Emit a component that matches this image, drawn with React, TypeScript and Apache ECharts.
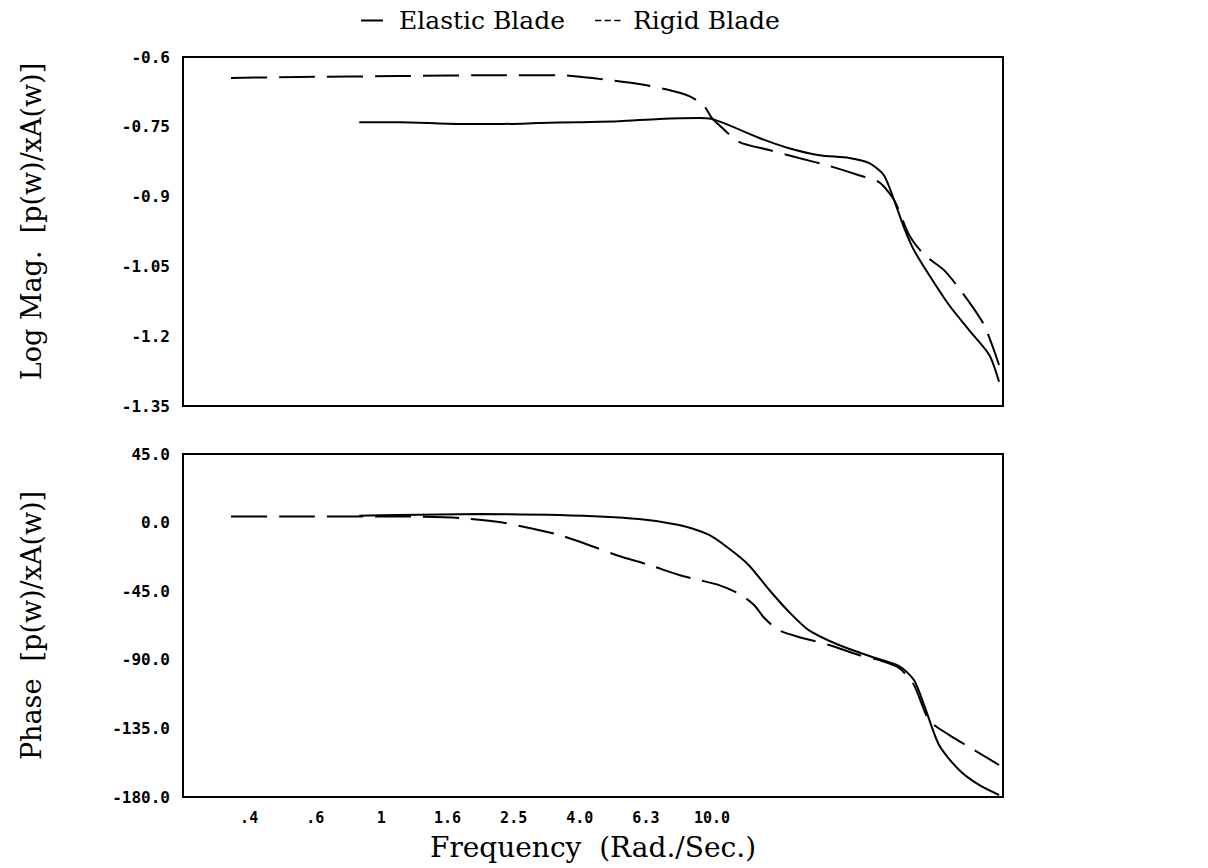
import { useEffect, useRef } from "react";
import * as echarts from "echarts";

// ---------- data (frequency in rad/s) ----------
const elasticMagFreq = [0.857, 1.13, 1.72, 2.27, 3.0, 3.96, 5.23, 6.92, 9.14, 9.94, 11.2, 13.9, 17.1, 21.1, 26.0, 29.9, 33.1, 35.5, 38.1, 40.8, 45.3, 52.1, 59.9, 68.9, 73.8];
const elasticMag = [-0.74, -0.74, -0.744, -0.744, -0.742, -0.74, -0.738, -0.733, -0.731, -0.733, -0.746, -0.774, -0.796, -0.811, -0.817, -0.828, -0.854, -0.907, -0.967, -1.015, -1.068, -1.133, -1.187, -1.24, -1.298];

const rigidMagFreq = [0.351, 0.564, 1.13, 2.27, 3.44, 4.55, 6.01, 7.41, 8.53, 9.46, 9.94, 10.5, 12.1, 14.9, 18.3, 22.6, 27.8, 32.0, 35.5, 39.5, 43.8, 50.3, 57.8, 66.5, 73.8];
const rigidMag = [-0.645, -0.643, -0.641, -0.639, -0.639, -0.647, -0.658, -0.671, -0.684, -0.705, -0.729, -0.746, -0.783, -0.8, -0.817, -0.834, -0.854, -0.869, -0.907, -0.983, -1.025, -1.058, -1.111, -1.176, -1.262];

const elasticPhaseFreq = [0.857, 1.13, 1.97, 3.44, 6.01, 7.95, 9.8, 11.2, 12.9, 14.9, 17.1, 19.6, 24.2, 29.9, 36.8, 40.8, 43.8, 48.6, 55.9, 64.2, 73.8];
const elasticPhase = [4.5, 5.0, 5.6, 5.0, 2.4, -1.6, -8.1, -16.7, -27.8, -44.2, -58.6, -70.5, -80.3, -87.5, -94.1, -103.3, -119.7, -145.9, -162.3, -172.1, -178.7];

const rigidPhaseFreq = [0.351, 0.564, 1.13, 1.72, 2.27, 2.8, 3.44, 4.24, 5.23, 6.45, 7.95, 9.14, 10.5, 12.1, 13.4, 14.4, 15.9, 18.3, 22.6, 27.8, 32.0, 36.8, 40.8, 45.3, 52.1, 62.0, 73.8];
const rigidPhase = [4, 4, 4, 3, 0.4, -3.5, -8, -14.7, -21.9, -27.8, -34.4, -37.7, -41, -46.8, -54, -62.6, -70.5, -75, -80.3, -86.9, -90.2, -95.4, -106.5, -129.5, -139.3, -149.2, -159];

// tick labels on the log-frequency axis, keyed by 5*log10(f)
const xTickLabels: Record<string, string> = {
  "-2": ".4",
  "-1": ".6",
  "0": "1",
  "1": "1.6",
  "2": "2.5",
  "3": "4.0",
  "4": "6.3",
  "5": "10.0",
};

const legendNames = ["Elastic Blade", "Rigid Blade"];

function toPoints(freq: number[], vals: number[]) {
  return freq.map((f, i) => [Math.log10(f), vals[i]]);
}

export default function App() {
  const ref = useRef<HTMLDivElement>(null);

  useEffect(() => {
    if (!ref.current) return;
    const chart = echarts.init(ref.current, null, { renderer: "svg" });

    const serif = "DejaVu Serif";
    const mono = "DejaVu Sans Mono";
    const black = "#000";

    const xBase = {
      type: "value" as const,
      min: -0.6,
      max: 1.88,
      interval: 0.2,
      axisLine: { show: false },
      axisTick: { show: false },
      splitLine: { show: false },
    };

    const solid = { color: black, width: 2, type: "solid" as const };
    const dashed = { color: black, width: 2, type: [36, 12] as number[] };

    // legend icons: a line (solid / three dashes) followed by a blank gap
    const solidIcon = "path://M0,0H22V2H0ZM33,0H33.01V0.01H33Z";
    const dashIcon = "path://M0,0H9V2H0ZM14,0H23V2H14ZM28,0H37V2H28ZM48,0H48.01V0.01H48Z";

    chart.setOption({
      animation: false,
      backgroundColor: "#fff",
      legend: {
        top: 3,
        left: 356,
        itemHeight: 2,
        itemGap: 30,
        textStyle: { fontFamily: serif, fontSize: 25, color: black },
        itemStyle: { color: black, borderWidth: 0 },
        data: [
          { name: legendNames[0], icon: solidIcon, itemWidth: 33 },
          { name: legendNames[1], icon: dashIcon, itemWidth: 48 },
        ],
        itemWidth: 33,
      },
      grid: [
        { left: 183, right: 205, top: 57, height: 349, show: true, borderColor: black, borderWidth: 2, backgroundColor: "transparent" },
        { left: 183, right: 205, top: 454, height: 343, show: true, borderColor: black, borderWidth: 2, backgroundColor: "transparent" },
      ],
      xAxis: [
        { ...xBase, gridIndex: 0, axisLabel: { show: false } },
        {
          ...xBase,
          gridIndex: 1,
          axisLabel: {
            show: true,
            margin: 13,
            fontFamily: mono,
            fontSize: 15,
            fontWeight: "bold",
            color: black,
            formatter: (v: number) => xTickLabels[String(Math.round(v * 5))] ?? "",
          },
          name: "Frequency  (Rad./Sec.)",
          nameLocation: "middle",
          nameGap: 36,
          nameTextStyle: { fontFamily: serif, fontSize: 28, color: black },
        },
      ],
      yAxis: [
        {
          type: "value",
          gridIndex: 0,
          min: -1.35,
          max: -0.6,
          interval: 0.15,
          axisLine: { show: false },
          axisTick: { show: false },
          splitLine: { show: false },
          axisLabel: {
            margin: 13,
            fontFamily: mono,
            fontSize: 16,
            fontWeight: "bold",
            color: black,
            formatter: (v: number) => String(Number(v.toFixed(2))),
          },
          name: "Log Mag.  [p(w)/xA(w)]",
          nameLocation: "middle",
          nameRotate: 90,
          nameGap: 138,
          nameTextStyle: { fontFamily: serif, fontSize: 27, color: black, padding: [0, 0, 0, 20] },
        },
        {
          type: "value",
          gridIndex: 1,
          min: -180,
          max: 45,
          interval: 45,
          axisLine: { show: false },
          axisTick: { show: false },
          splitLine: { show: false },
          axisLabel: {
            margin: 13,
            fontFamily: mono,
            fontSize: 16,
            fontWeight: "bold",
            color: black,
            formatter: (v: number) => v.toFixed(1),
          },
          name: "Phase  [p(w)/xA(w)]",
          nameLocation: "middle",
          nameRotate: 90,
          nameGap: 138,
          nameTextStyle: { fontFamily: serif, fontSize: 27, color: black },
        },
      ],
      series: [
        {
          name: legendNames[0],
          type: "line",
          xAxisIndex: 0,
          yAxisIndex: 0,
          data: toPoints(elasticMagFreq, elasticMag),
          showSymbol: false,
          symbol: "none",
          smooth: 0.25,
          lineStyle: solid,
          itemStyle: { color: black },
        },
        {
          name: legendNames[1],
          type: "line",
          xAxisIndex: 0,
          yAxisIndex: 0,
          data: toPoints(rigidMagFreq, rigidMag),
          showSymbol: false,
          symbol: "none",
          smooth: 0.25,
          lineStyle: dashed,
          itemStyle: { color: black },
        },
        {
          name: legendNames[0],
          type: "line",
          xAxisIndex: 1,
          yAxisIndex: 1,
          data: toPoints(elasticPhaseFreq, elasticPhase),
          showSymbol: false,
          symbol: "none",
          smooth: 0.25,
          lineStyle: solid,
          itemStyle: { color: black },
        },
        {
          name: legendNames[1],
          type: "line",
          xAxisIndex: 1,
          yAxisIndex: 1,
          data: toPoints(rigidPhaseFreq, rigidPhase),
          showSymbol: false,
          symbol: "none",
          smooth: 0.25,
          lineStyle: dashed,
          itemStyle: { color: black },
        },
      ],
    });

    return () => chart.dispose();
  }, []);

  return (
    <div
      ref={ref}
      style={{ position: "absolute", left: 0, top: 0, width: 1208, height: 868, background: "#fff" }}
    />
  );
}
